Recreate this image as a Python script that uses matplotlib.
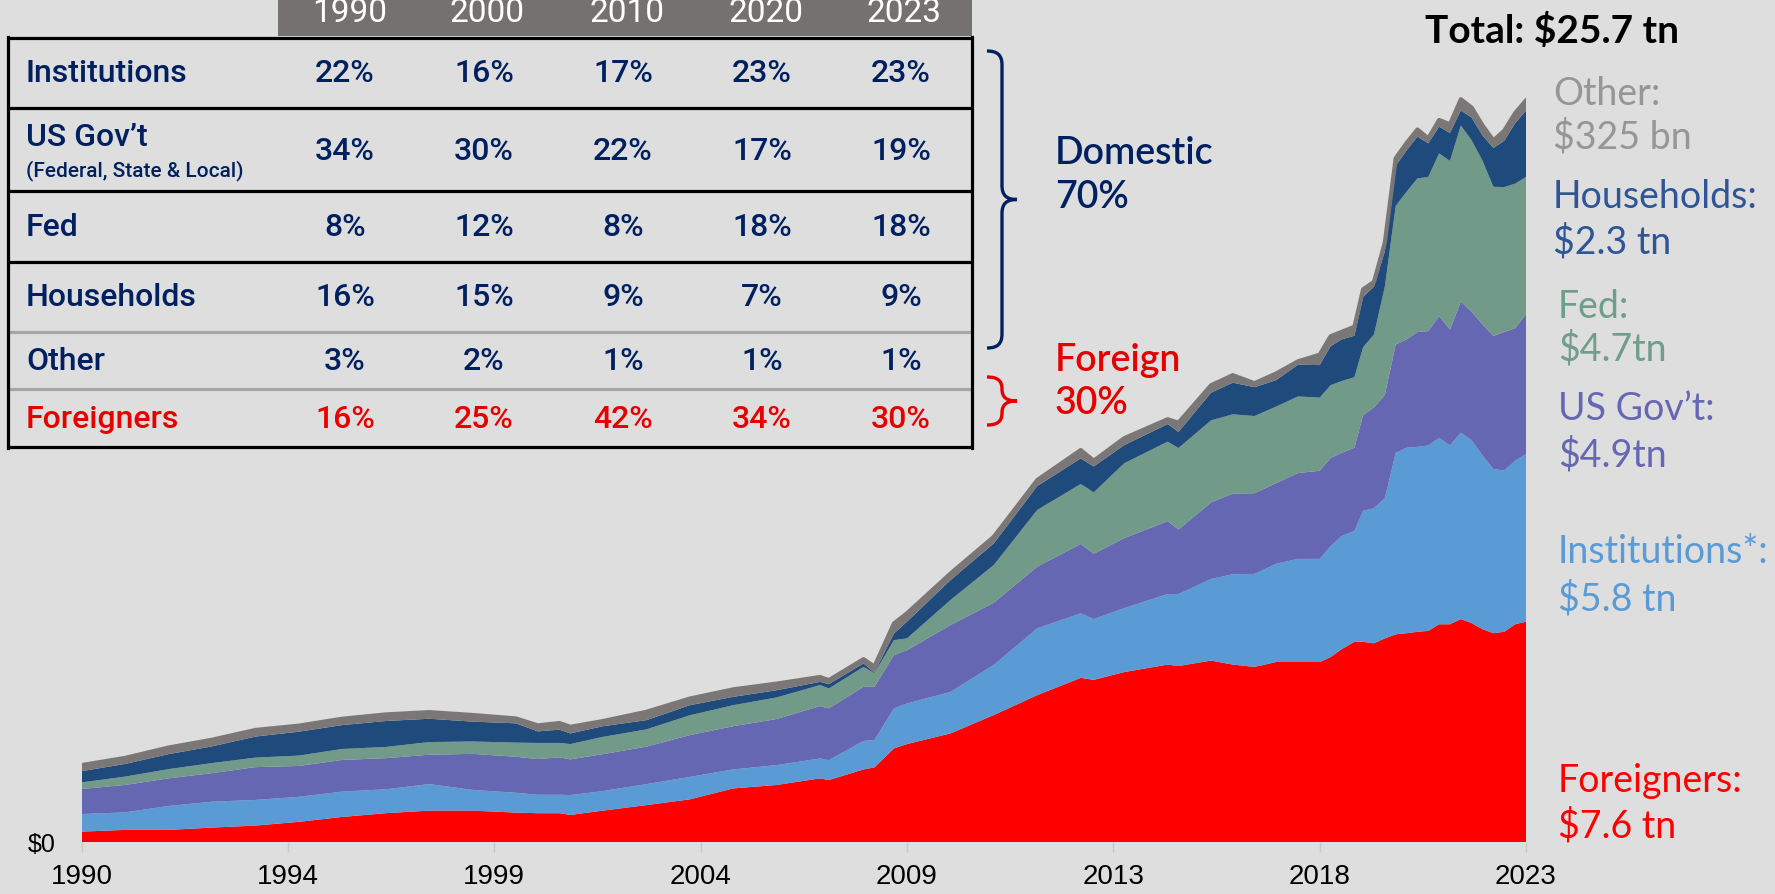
import matplotlib
matplotlib.use("Agg")
import numpy as np
import matplotlib.pyplot as plt
from matplotlib.path import Path
from matplotlib.patches import PathPatch, Rectangle

# holdings of US Treasury debt, $ tn
years = [1990.0, 1991.0, 1992.0, 1993.0, 1994.0, 1995.0, 1996.0, 1997.0, 1998.0, 1999.0,
         2000.0, 2000.5, 2001.0, 2001.25, 2002.0, 2003.0, 2004.0, 2005.0, 2006.0, 2007.0,
         2007.2, 2008.0, 2008.25, 2008.7, 2009.0, 2010.0, 2011.0, 2012.0, 2013.0, 2013.3,
         2014.0, 2015.0, 2015.25, 2016.0, 2016.5, 2017.0, 2017.5, 2018.0, 2018.5, 2018.75,
         2019.0, 2019.3, 2019.5, 2019.75, 2020.0, 2020.25, 2020.5, 2020.75, 2021.0, 2021.25,
         2021.5, 2021.75, 2022.0, 2022.25, 2022.5, 2022.75, 2023.0, 2023.25]

foreigners = [0.36, 0.42, 0.42, 0.50, 0.57, 0.70, 0.87, 1.00, 1.09, 1.09,
              1.02, 1.00, 1.00, 0.94, 1.09, 1.28, 1.48, 1.86, 1.98, 2.21,
              2.15, 2.52, 2.59, 3.25, 3.40, 3.77, 4.41, 5.10, 5.70, 5.63,
              5.90, 6.16, 6.11, 6.30, 6.16, 6.08, 6.25, 6.25, 6.25, 6.42,
              6.69, 6.95, 6.95, 6.90, 7.07, 7.21, 7.25, 7.30, 7.33, 7.56,
              7.56, 7.74, 7.60, 7.39, 7.25, 7.30, 7.56, 7.65]
institutions = [0.61, 0.61, 0.83, 0.90, 0.89, 0.87, 0.88, 0.83, 0.92, 0.72,
                0.69, 0.64, 0.64, 0.69, 0.68, 0.73, 0.78, 0.66, 0.69, 0.69,
                0.69, 0.99, 0.95, 1.39, 1.41, 1.44, 1.74, 2.32, 2.24, 2.11,
                2.22, 2.45, 2.50, 2.83, 3.14, 3.23, 3.41, 3.58, 3.58, 3.85,
                3.93, 3.85, 4.55, 4.69, 4.86, 6.30, 6.44, 6.42, 6.44, 6.47,
                6.21, 6.47, 6.35, 6.03, 5.70, 5.60, 5.68, 5.82]
us_govt = [0.87, 0.95, 0.96, 0.99, 1.14, 1.07, 1.10, 1.08, 1.02, 1.25,
           1.25, 1.24, 1.30, 1.24, 1.28, 1.30, 1.45, 1.50, 1.60, 1.82,
           1.80, 1.88, 1.85, 1.85, 1.85, 2.32, 2.16, 2.14, 2.41, 2.27,
           2.43, 2.53, 2.24, 2.66, 2.80, 2.80, 2.80, 2.98, 3.06, 3.06,
           2.89, 2.89, 3.32, 3.50, 3.59, 3.76, 3.76, 3.99, 3.97, 4.23,
           4.02, 4.55, 4.46, 4.55, 4.62, 4.81, 4.60, 4.85]
fed = [0.23, 0.29, 0.32, 0.35, 0.33, 0.36, 0.38, 0.39, 0.44, 0.43,
       0.49, 0.56, 0.50, 0.53, 0.60, 0.60, 0.69, 0.73, 0.75, 0.73,
       0.69, 0.69, 0.47, 0.52, 0.41, 0.87, 1.31, 1.97, 2.08, 2.13,
       2.60, 2.76, 2.83, 2.85, 2.75, 2.68, 2.66, 2.66, 2.54, 2.53,
       2.49, 2.45, 2.36, 2.53, 3.76, 4.81, 5.13, 5.33, 5.35, 5.65,
       5.86, 6.12, 5.95, 5.68, 5.18, 5.03, 5.02, 4.77]
households = [0.39, 0.44, 0.52, 0.58, 0.73, 0.83, 0.83, 0.90, 0.81, 0.69,
              0.67, 0.40, 0.46, 0.37, 0.37, 0.32, 0.35, 0.29, 0.25, 0.11,
              0.15, 0.12, 0.02, 0.23, 0.58, 0.69, 0.75, 0.83, 0.89, 0.90,
              0.63, 0.61, 0.56, 0.96, 1.10, 1.00, 0.92, 1.10, 1.13, 1.35,
              1.45, 1.44, 1.75, 1.66, 1.23, 1.40, 1.43, 1.45, 1.17, 0.93,
              0.97, 0.52, 0.79, 0.88, 1.35, 1.61, 2.10, 2.31]
other = [0.21, 0.21, 0.23, 0.23, 0.23, 0.21, 0.22, 0.23, 0.23, 0.23,
         0.17, 0.21, 0.23, 0.23, 0.18, 0.29, 0.23, 0.26, 0.23, 0.17,
         0.14, 0.15, 0.21, 0.35, 0.29, 0.23, 0.23, 0.21, 0.29, 0.20,
         0.24, 0.17, 0.32, 0.26, 0.26, 0.14, 0.23, 0.12, 0.36, 0.35,
         0.26, 0.31, 0.26, 0.17, 0.30, 0.26, 0.26, 0.25, 0.17, 0.23,
         0.30, 0.39, 0.35, 0.35, 0.26, 0.35, 0.35, 0.35]

# category axis: a label every 19 quarters
tick_years = [1990, 1994, 1999, 2004, 2009, 2013, 2018, 2023]

table_years = ["1990", "2000", "2010", "2020", "2023"]
table_rows = ["Institutions", "US Gov’t", "Fed", "Households", "Other", "Foreigners"]
table_vals = [
    ["22%", "16%", "17%", "23%", "23%"],
    ["34%", "30%", "22%", "17%", "19%"],
    ["8%", "12%", "8%", "18%", "18%"],
    ["16%", "15%", "9%", "7%", "9%"],
    ["3%", "2%", "1%", "1%", "1%"],
    ["16%", "25%", "42%", "34%", "30%"],
]

end_labels = [
    ("Other:", "$325 bn"),
    ("Households:", "$2.3 tn"),
    ("Fed:", "$4.7tn"),
    ("US Gov’t:", "$4.9tn"),
    ("Institutions*:", "$5.8 tn"),
    ("Foreigners:", "$7.6 tn"),
]

BG = "#dedede"
NAVY = "#002060"
TXT_RED = "#e60000"
area_colors = ["#ff0000", "#5b9bd5", "#6667b3", "#719a88", "#1f4b7c", "#7b7777"]
label_colors = ["#969696", "#2f5597", "#6f9e8a", "#6667b3", "#5b9bd5", "#ff0000"]

W, H = 1775, 894
fig = plt.figure(figsize=(W / 100, H / 100), dpi=100, facecolor=BG)

# main stacked area chart (28.8 px per $tn, baseline at y=842 px)
ax = fig.add_axes([81.6 / W, 52 / H, 1444.4 / W, 762 / H])
ax.set_facecolor("none")
ax.stackplot(years, foreigners, institutions, us_govt, fed, households, other,
             colors=area_colors, linewidth=0)
total = np.sum([foreigners, institutions, us_govt, fed, households, other], axis=0)
ax.plot(years, total, color="#7b7777", lw=3, solid_joinstyle="round")
ax.set_xlim(1990, 2023.25)
ax.set_ylim(0, 762 / 28.8)
for s in ax.spines.values():
    s.set_visible(False)
ax.set_xticks([1990 + 4.75 * i for i in range(len(tick_years))],
              labels=[str(y) for y in tick_years])
ax.tick_params(axis="x", length=7, color="#c8c8c8", width=1, pad=9,
               labelsize=20, labelcolor="black")
for t in ax.get_xticklabels():
    t.set_family(["Liberation Sans", "DejaVu Sans"])
ax.set_yticks([0], labels=["$0"])
ax.tick_params(axis="y", length=0, pad=19, labelsize=18)
for t in ax.get_yticklabels():
    t.set_family(["Liberation Sans", "DejaVu Sans"])

# overlay in pixel coordinates for table and annotations
ov = fig.add_axes([0, 0, 1, 1], zorder=5)
ov.set_xlim(0, W)
ov.set_ylim(H, 0)
ov.axis("off")
ov.patch.set_alpha(0)

tbl_font = ["Roboto", "DejaVu Sans"]
lato = ["Lato", "DejaVu Sans"]

# table
ov.add_patch(Rectangle((278, 0), 694, 36, color="#767171", lw=0))
hx = [350, 487, 627, 766, 904]
for x, yr in zip(hx, table_years):
    ov.text(x, 22, yr, color="white", fontsize=24, family=tbl_font,
            ha="center", va="baseline")

for y in [38, 108, 191, 262, 447]:
    ov.plot([7, 973], [y, y], color="black", lw=2.3, solid_capstyle="butt")
for y in [332, 389]:
    ov.plot([9, 971], [y, y], color="#a6a6a6", lw=2.3)
ov.plot([8, 8], [37, 448], color="black", lw=2.3)
ov.plot([971.5, 971.5], [37, 448], color="black", lw=2.3)

row_y = [73, 137, 227, 297, 362, 420]
val_y = [73, 151, 227, 297, 362, 420]
vx = [345, 484, 623, 762, 901]
for i, name in enumerate(table_rows):
    c = TXT_RED if name == "Foreigners" else NAVY
    ov.text(26, row_y[i], name, color=c, fontsize=23, family=tbl_font,
            fontweight="medium", ha="left", va="center")
    for x, v in zip(vx, table_vals[i]):
        ov.text(x, val_y[i], v, color=c, fontsize=23, family=tbl_font,
                fontweight="medium", ha="center", va="center")
ov.text(26, 171, "(Federal, State & Local)", color=NAVY, fontsize=15,
        family=tbl_font, fontweight="medium", ha="left", va="center")


def brace(x, y0, y1, color, w=15, r=14):
    ym = (y0 + y1) / 2
    r = min(r, (y1 - y0) / 4)
    verts = [(x - w, y0),
             (x - w * 0.3, y0), (x, y0 + r * 0.3), (x, y0 + r),
             (x, ym - r),
             (x, ym - r * 0.3), (x + w * 0.3, ym), (x + w, ym),
             (x + w * 0.3, ym), (x, ym + r * 0.3), (x, ym + r),
             (x, y1 - r),
             (x, y1 - r * 0.3), (x - w * 0.3, y1), (x - w, y1)]
    codes = [Path.MOVETO] + [Path.CURVE4] * 3 + [Path.LINETO] + [Path.CURVE4] * 6 \
        + [Path.LINETO] + [Path.CURVE4] * 3
    ov.add_patch(PathPatch(Path(verts, codes), fc="none", ec=color, lw=2.4))


brace(1002, 51, 348, NAVY)
brace(1002, 377, 425, TXT_RED)
ov.text(1055, 154, "Domestic", color=NAVY, fontsize=27, family=lato,
        fontweight="semibold", va="center")
ov.text(1055, 198, "70%", color=NAVY, fontsize=27, family=lato,
        fontweight="semibold", va="center")
ov.text(1055, 361, "Foreign", color=TXT_RED, fontsize=27, family=lato,
        fontweight="semibold", va="center")
ov.text(1055, 404, "30%", color=TXT_RED, fontsize=27, family=lato,
        fontweight="semibold", va="center")

# end-of-series labels
ov.text(1552, 31, "Total: $25.7 tn", color="black", fontsize=28, family=lato,
        fontweight="bold", ha="center", va="center")
lab_y = [(94, 137), (197, 242), (307, 349), (409, 455), (552, 599), (781, 826)]
lab_x = [1553, 1553, 1558, 1558, 1558, 1558]
for (l1, l2), (y1, y2), x, c in zip(end_labels, lab_y, lab_x, label_colors):
    ov.text(x, y1, l1, color=c, fontsize=27, family=lato, va="center")
    ov.text(x, y2, l2, color=c, fontsize=27, family=lato, va="center")

fig.savefig("out.png", dpi=100, facecolor=BG)
